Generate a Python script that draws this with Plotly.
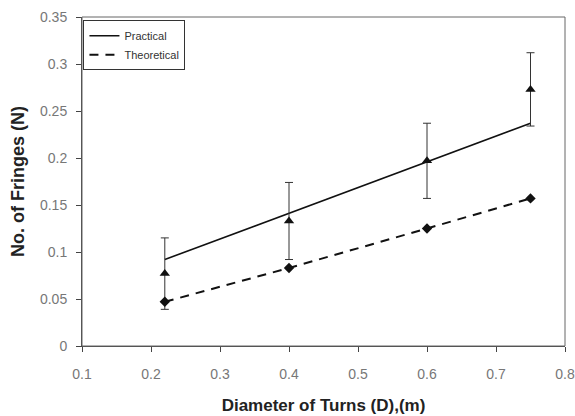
import plotly.graph_objects as go

diameter = [0.22, 0.4, 0.6, 0.75]
practical = [0.077, 0.133, 0.197, 0.273]
practical_err = [0.038, 0.041, 0.040, 0.039]
practical_trend = [0.092, 0.141, 0.196, 0.237]
theoretical = [0.047, 0.083, 0.125, 0.157]

x_ticks = [0.1, 0.2, 0.3, 0.4, 0.5, 0.6, 0.7, 0.8]
y_ticks = [0, 0.05, 0.1, 0.15, 0.2, 0.25, 0.3, 0.35]

tick_font = dict(family="Liberation Sans, Arial", size=14, color="#777")

fig = go.Figure()
fig.add_trace(go.Scatter(x=diameter, y=practical_trend, mode="lines", name="Practical",
                         line=dict(color="#111", width=1.6)))
fig.add_trace(go.Scatter(x=diameter, y=theoretical, mode="lines", name="Theoretical",
                         line=dict(color="#111", width=2, dash="9px,7px")))
fig.add_trace(go.Scatter(x=diameter, y=practical, mode="markers", showlegend=False,
                         marker=dict(symbol="triangle-up", size=9, color="#111"),
                         error_y=dict(type="data", array=practical_err, color="#333",
                                      thickness=1, width=4)))
fig.add_trace(go.Scatter(x=diameter, y=theoretical, mode="markers", showlegend=False,
                         marker=dict(symbol="diamond", size=8, color="#111")))

fig.update_layout(
    width=575, height=416,
    margin=dict(l=82, r=10, t=17, b=70),
    paper_bgcolor="white", plot_bgcolor="white",
    showlegend=True,
    legend=dict(x=0.003, y=0.99, xanchor="left", yanchor="top",
                bordercolor="#333", borderwidth=1, bgcolor="white",
                font=dict(family="Liberation Sans Narrow, Arial Narrow, Liberation Sans", size=11, color="#333"),
                tracegroupgap=0, itemwidth=30),
    xaxis=dict(range=[0.1, 0.8], tickvals=x_ticks, ticktext=[f"{v:g}" for v in x_ticks],
               showgrid=False, zeroline=False, showline=True, linecolor="#444", linewidth=1,
               ticks="outside", ticklen=5, tickcolor="#444", tickfont=tick_font,
               ticklabelstandoff=10, automargin=False,
               title=dict(text="<b>Diameter of Turns (D),(m)</b>",
                          font=dict(family="Liberation Sans, Arial", size=17, color="#222"),
                          standoff=18)),
    yaxis=dict(range=[0, 0.35], tickvals=y_ticks, ticktext=[f"{v:g}" for v in y_ticks],
               showgrid=False, zeroline=False, showline=True, linecolor="#444", linewidth=1,
               ticks="outside", ticklen=5, tickcolor="#444", tickfont=tick_font,
               ticklabelstandoff=6, automargin=False,
               title=dict(text="<b>No. of Fringes (N)</b>",
                          font=dict(family="Liberation Sans, Arial", size=18, color="#222"),
                          standoff=10)),
    shapes=[dict(type="rect", xref="paper", yref="paper", x0=0, y0=0, x1=1, y1=1,
                 line=dict(color="#666", width=1))],
)

fig.write_html("out.html")
